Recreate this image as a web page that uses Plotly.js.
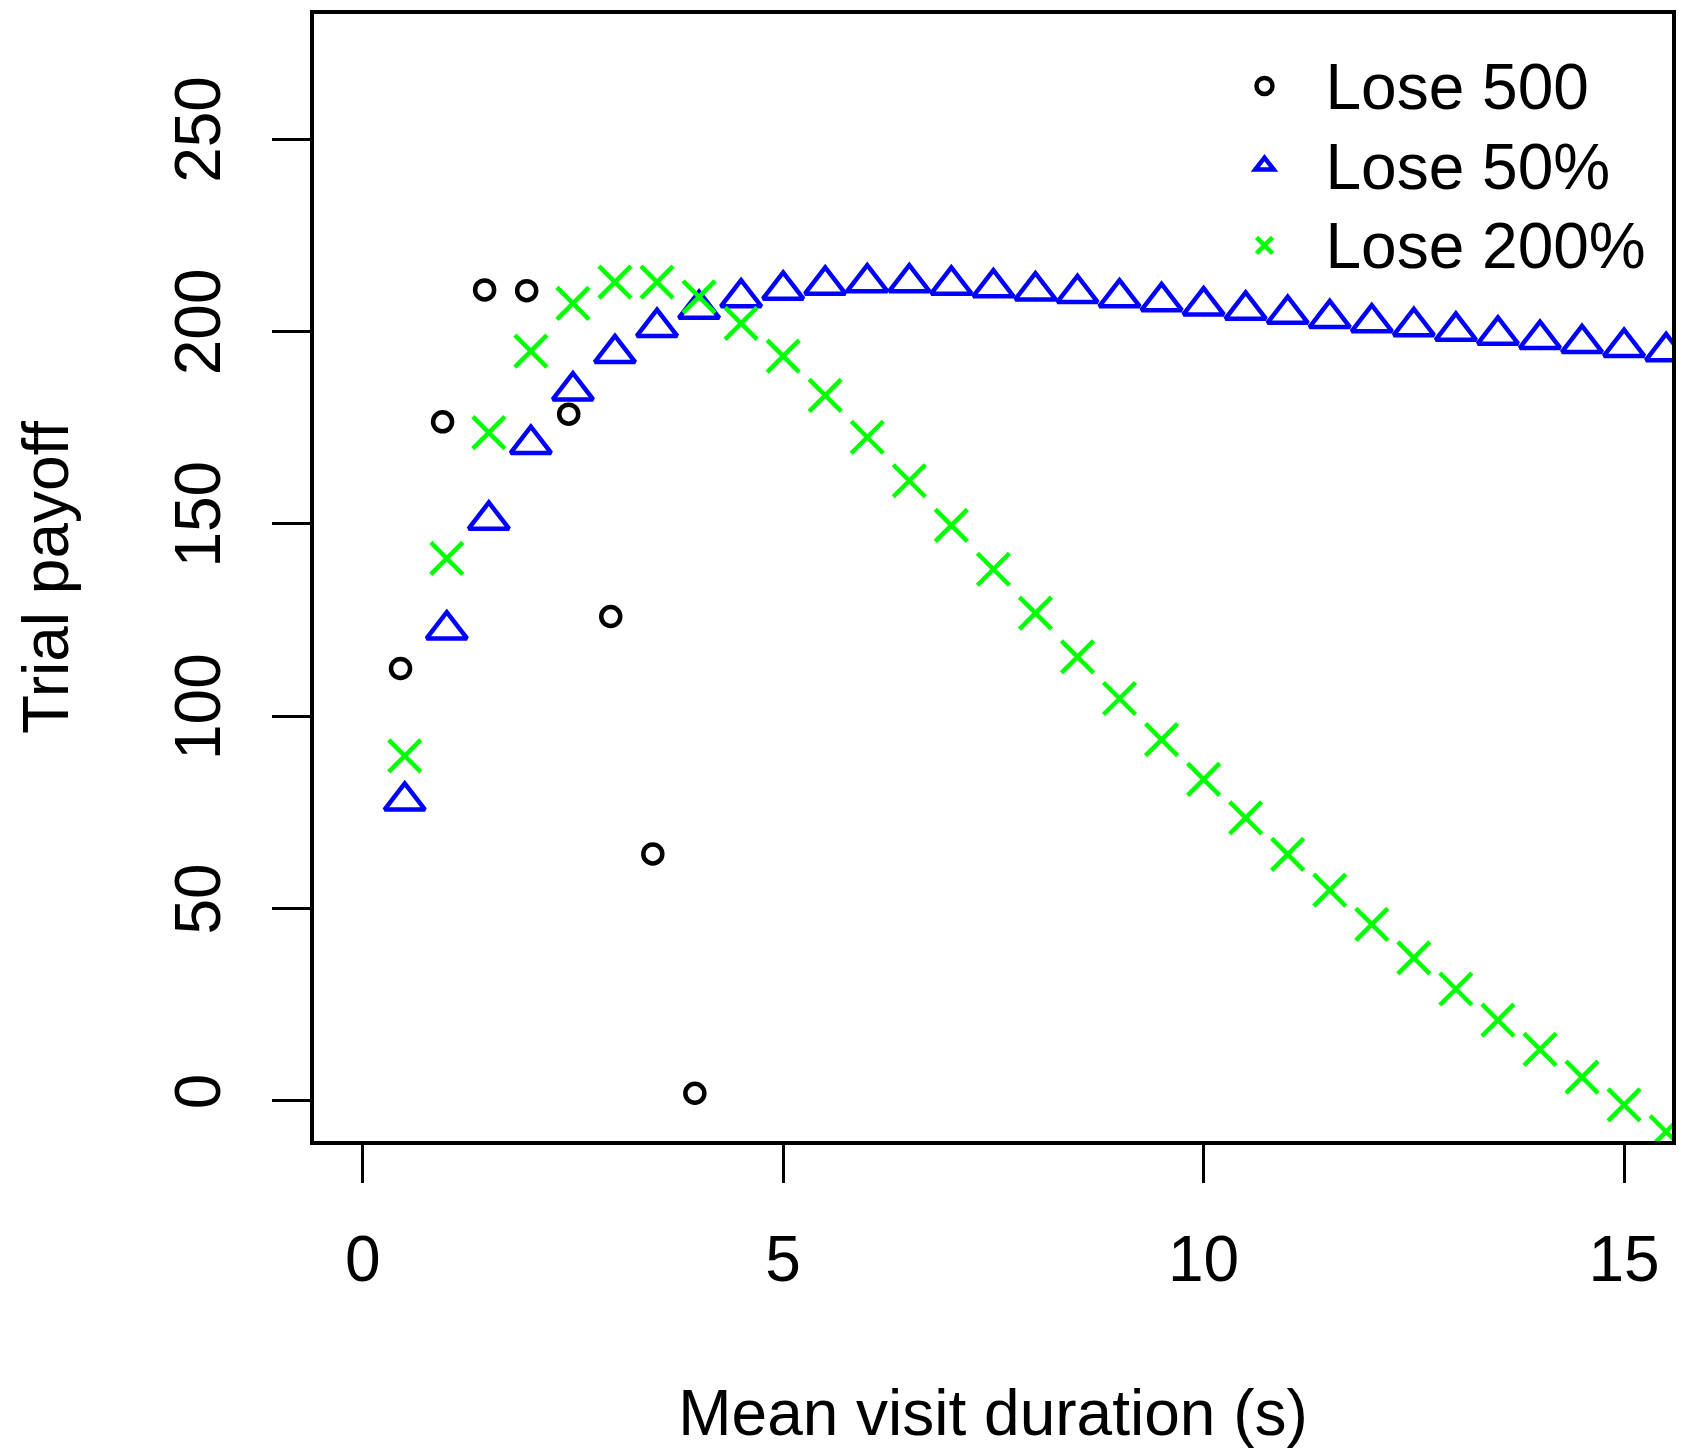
<!DOCTYPE html>
<html>
<head>
<meta charset="utf-8">
<script src="https://cdn.plot.ly/plotly-3.0.1.min.js"></script>
<style>
  html, body { margin: 0; padding: 0; background: #ffffff; }
  #chart { width: 1682px; height: 1454px; }
</style>
</head>
<body>
<div id="chart"></div>
<script>
// ---- data ----
var lose500X = [0.45, 0.95, 1.45, 1.95, 2.45, 2.95, 3.45, 3.95];
var lose500Y = [112.4, 176.5, 210.8, 210.6, 178.5, 125.9, 64.2, 2.0];

var durationX = [0.5, 1, 1.5, 2, 2.5, 3, 3.5, 4, 4.5, 5, 5.5, 6, 6.5, 7, 7.5, 8,
                 8.5, 9, 9.5, 10, 10.5, 11, 11.5, 12, 12.5, 13, 13.5, 14, 14.5, 15, 15.5];

var lose50Y = [78.0, 122.5, 151.0, 170.7, 184.6, 194.3, 201.1, 205.8, 208.8, 210.8,
               212.1, 212.7, 212.7, 212.1, 211.4, 210.6, 209.9, 208.8, 207.8, 206.7,
               205.6, 204.5, 203.4, 202.3, 201.3, 200.1, 199.1, 198.0, 196.9, 195.9, 194.8];

var lose200Y = [89.7, 141.0, 173.7, 194.9, 207.3, 212.8, 212.8, 209.0, 202.1, 193.6,
                183.4, 172.5, 161.2, 149.6, 138.2, 126.8, 115.4, 104.6, 93.9, 83.6,
                73.6, 64.1, 54.8, 45.9, 37.2, 29.1, 21.0, 13.4, 6.2, -1.0, -8.0];

var seriesNames = ["Lose 500", "Lose 50%", "Lose 200%"];
var xTickVals = [0, 5, 10, 15];
var yTickVals = [0, 50, 100, 150, 200, 250];

var FONT = "Liberation Sans, Arial, Helvetica, sans-serif";

function legendName(s) {
  return '<span style="font-size:64px">' + s + '</span>';
}

var traces = [
  {
    type: "scatter", mode: "markers", name: legendName(seriesNames[0]),
    x: lose500X, y: lose500Y,
    marker: { symbol: "circle-open", size: 19, color: "#000000",
              line: { color: "#000000", width: 4.5 } }
  },
  {
    type: "scatter", mode: "markers", name: legendName(seriesNames[1]),
    x: durationX, y: lose50Y,
    marker: { symbol: "triangle-up-open", size: 35, color: "#0000ff",
              line: { color: "#0000ff", width: 4.5 } }
  },
  {
    type: "scatter", mode: "markers", name: legendName(seriesNames[2]),
    x: durationX, y: lose200Y,
    marker: { symbol: "x-thin-open", size: 32, color: "#00ff00",
              line: { color: "#00ff00", width: 4.5 } }
  }
];

var axisCommon = {
  showgrid: false, zeroline: false,
  showline: true, mirror: true, linecolor: "#000000", linewidth: 4,
  ticks: "outside", ticklen: 38, tickwidth: 3, tickcolor: "#000000",
  tickfont: { family: FONT, size: 64, color: "#000000" },
  automargin: true
};

var layout = {
  width: 1682, height: 1454,
  paper_bgcolor: "#ffffff", plot_bgcolor: "#ffffff",
  margin: { l: 314, r: 10, t: 14, b: 313, pad: 0, autoexpand: false },
  font: { family: FONT, size: 64, color: "#000000" },
  showlegend: true,
  legend: {
    x: 0.655, y: 0.976, xanchor: "left", yanchor: "top",
    bgcolor: "rgba(0,0,0,0)", borderwidth: 0,
    font: { family: FONT, size: 59, color: "#000000" },
    itemwidth: 112
  },
  xaxis: Object.assign({}, axisCommon, {
    range: [-0.579, 15.570],
    tickmode: "array", tickvals: xTickVals, ticktext: xTickVals.map(String),
    ticklabelstandoff: 21,
    title: { text: "Mean visit duration (s)", font: { family: FONT, size: 64, color: "#000000" }, standoff: 97 }
  }),
  yaxis: Object.assign({}, axisCommon, {
    range: [-10.4, 282.5],
    tickmode: "array", tickvals: yTickVals, ticktext: yTickVals.map(String),
    tickangle: -90,
    ticklabelstandoff: 26,
    title: { text: "Trial payoff", font: { family: FONT, size: 64, color: "#000000" }, standoff: 74 }
  })
};

Plotly.newPlot("chart", traces, layout, { displayModeBar: false, staticPlot: true });
</script>
</body>
</html>
